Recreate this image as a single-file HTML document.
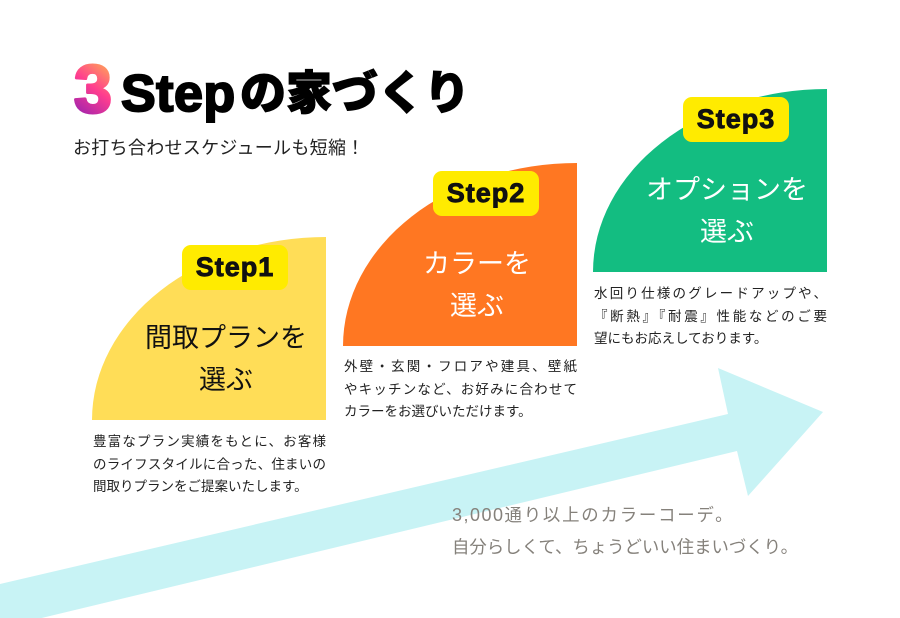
<!DOCTYPE html>
<html lang="ja">
<head>
<meta charset="utf-8">
<style>
  html, body { margin:0; padding:0; background:#ffffff; }
  body { width:900px; height:618px; position:relative; overflow:hidden;
         font-family:"Liberation Sans","Noto Sans CJK JP",sans-serif; }
  .abs { position:absolute; white-space:nowrap; }
  .step { left:121px; top:68px; font-size:52px; line-height:52px; font-weight:bold; color:#000;
          font-family:"Liberation Sans",sans-serif; letter-spacing:0.5px;
          -webkit-text-stroke:2px #000; }
  .ie { left:240px; top:67px; font-size:46px; line-height:46px; font-weight:900; color:#000;
        font-family:"Noto Sans CJK JP",sans-serif; -webkit-text-stroke:1.2px #000; }
  .sub { left:73px; top:138px; font-size:18px; line-height:18px; color:#222;
         font-family:"Noto Sans CJK JP",sans-serif; letter-spacing:0.3px; }
  .shape { position:absolute; width:234px; height:183px; border-top-left-radius:100% 100%; }
  .badge { position:absolute; width:106px; height:45px; border-radius:9px; background:#ffeb00;
           text-align:center; line-height:45px; font-size:27px; font-weight:bold; color:#111;
           font-family:"Liberation Sans",sans-serif; letter-spacing:1px;
           -webkit-text-stroke:0.9px #111; }
  .main { position:absolute; width:200px; text-align:center; font-size:27px; line-height:42px;
          font-family:"Liberation Sans","Noto Sans CJK JP",sans-serif; white-space:nowrap; }
  .desc { position:absolute; width:233px; font-size:13.5px; line-height:22.5px; color:#222;
          font-family:"Liberation Sans","Noto Sans CJK JP",sans-serif; }
  .desc div { white-space:nowrap; }
  .desc .j { text-align:justify; text-align-last:justify; }
  .bottom { left:452px; top:499px; font-size:17.4px; line-height:32px; color:#85817b;
            font-family:"Liberation Sans","Noto Sans CJK JP",sans-serif; }
  .bottom .l1 { letter-spacing:1.8px; }
  .bottom .num { letter-spacing:1.5px; font-size:18px; }
</style>
</head>
<body>
<svg width="900" height="618" style="position:absolute;left:0;top:0;">
  <defs>
    <linearGradient id="g3" gradientUnits="userSpaceOnUse" x1="74" y1="114" x2="114" y2="62">
      <stop offset="0" stop-color="#9a22b0"/>
      <stop offset="0.5" stop-color="#ff3d8f"/>
      <stop offset="1" stop-color="#ffb64e"/>
    </linearGradient>
  </defs>
  <polygon points="0,584 728,414 718,368 823,412 748,496 737,451 0,628" fill="#c8f3f5"/>
  <text x="74" y="112" font-family="Liberation Sans, sans-serif" font-weight="bold" font-size="68" fill="url(#g3)" stroke="url(#g3)" stroke-width="3" stroke-linejoin="round">3</text>
</svg>

<span class="abs step">Step</span>
<span class="abs ie">の家づくり</span>
<div class="abs sub">お打ち合わせスケジュールも短縮！</div>

<!-- Step1 -->
<div class="shape" style="left:92px;top:237px;background:#ffdd57;"></div>
<div class="badge" style="left:182px;top:245px;">Step1</div>
<div class="main" style="left:126px;top:317px;color:#111;">間取プランを<br>選ぶ</div>
<div class="desc" style="left:93px;top:431px;">
  <div class="j">豊富なプラン実績をもとに、お客様</div>
  <div class="j">のライフスタイルに合った、住まいの</div>
  <div>間取りプランをご提案いたします。</div>
</div>

<!-- Step2 -->
<div class="shape" style="left:343px;top:163px;background:#ff7722;"></div>
<div class="badge" style="left:433px;top:171px;">Step2</div>
<div class="main" style="left:377px;top:243px;color:#fff;">カラーを<br>選ぶ</div>
<div class="desc" style="left:344px;top:356px;">
  <div class="j">外壁・玄関・フロアや建具、壁紙</div>
  <div class="j">やキッチンなど、お好みに合わせて</div>
  <div>カラーをお選びいただけます。</div>
</div>

<!-- Step3 -->
<div class="shape" style="left:593px;top:89px;background:#13bd81;"></div>
<div class="badge" style="left:683px;top:97px;">Step3</div>
<div class="main" style="left:627px;top:169px;color:#fff;">オプションを<br>選ぶ</div>
<div class="desc" style="left:594px;top:283px;">
  <div class="j">水回り仕様のグレードアップや、</div>
  <div class="j">『断熱』『耐震』性能などのご要</div>
  <div>望にもお応えしております。</div>
</div>

<div class="abs bottom"><span class="l1"><span class="num">3,000</span>通り以上のカラーコーデ。</span><br>自分らしくて、ちょうどいい住まいづくり。</div>
</body>
</html>
